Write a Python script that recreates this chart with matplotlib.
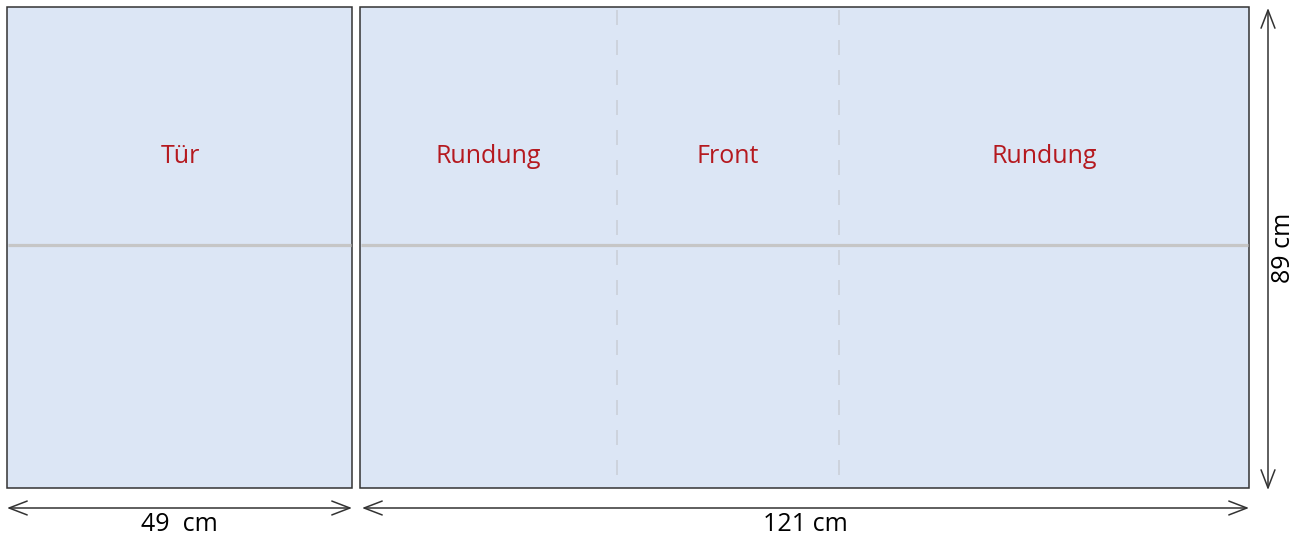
import matplotlib.pyplot as plt
from matplotlib.patches import Rectangle

plt.rcParams['font.family'] = ['Open Sans', 'DejaVu Sans']
plt.rcParams['lines.scale_dashes'] = False

# Maße in cm
breite_tuer = 49
breite_rest = 121
hoehe = 89
labels_oben = ['Tür', 'Rundung', 'Front', 'Rundung']
label_tuer = '49  cm'
label_rest = '121 cm'
label_hoehe = '89 cm'

fill_col = '#dce6f5'
edge_col = '#333333'
red = '#b5191f'

fig = plt.figure(figsize=(13.04, 5.38), dpi=100)
ax = fig.add_axes([0, 0, 1, 1])
ax.set_xlim(0, 1304)
ax.set_ylim(538, 0)
ax.axis('off')

# Pixelpositionen der beiden Teile
top, bottom = 7, 488
x0_l, x1_l = 7, 352
x0_r, x1_r = 360, 1249
mid_y = 245

for x0, x1 in [(x0_l, x1_l), (x0_r, x1_r)]:
    ax.add_patch(Rectangle((x0, top), x1 - x0, bottom - top, facecolor=fill_col,
                           edgecolor=edge_col, lw=1.1, zorder=2))
    ax.plot([x0 + 1, x1 - 1], [mid_y, mid_y], color='#c6c6c6', lw=2.3, zorder=3,
            solid_capstyle='butt')

# gestrichelte Linien (Front)
for xd in [617, 839]:
    ax.plot([xd, xd], [10, bottom], color='#c9ced6', lw=1.1, zorder=3,
            dashes=(10.8, 10.8))

# Beschriftungen
fs = 18
pos_x = [180, 488, 728, 1044]
for lab, px in zip(labels_oben, pos_x):
    ax.text(px, 163, lab, color=red, fontsize=fs, ha='center', va='baseline', zorder=4)

arrow = dict(arrowstyle='<->,head_length=1.3,head_width=0.5', color='#333333',
             lw=1.1, shrinkA=0, shrinkB=0)
ax.annotate('', xy=(x0_l, 508), xytext=(x1_l, 508), arrowprops=arrow)
ax.annotate('', xy=(x0_r + 2, 508), xytext=(x1_r, 508), arrowprops=arrow)
ax.annotate('', xy=(1268, 8), xytext=(1268, 490), arrowprops=arrow)

ax.text((x0_l + x1_l) / 2, 531, label_tuer, fontsize=fs, ha='center', va='baseline')
ax.text(805, 531, label_rest, fontsize=fs, ha='center', va='baseline')
ax.text(1283, 248, label_hoehe, fontsize=fs, ha='center', va='center', rotation=90)

fig.savefig('out.png', dpi=100)
